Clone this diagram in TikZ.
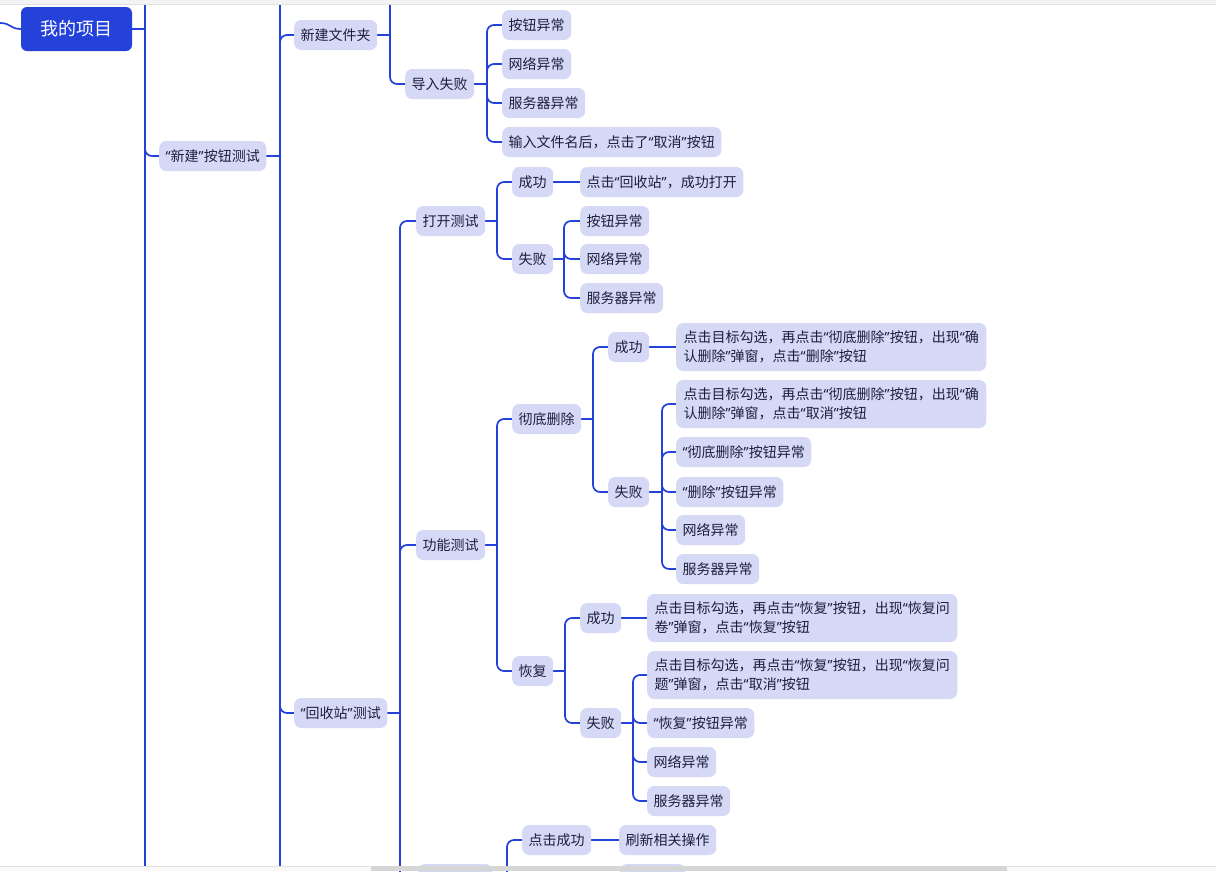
\documentclass[tikz,border=0pt]{standalone}
\usepackage{fontspec}
\setmainfont{Noto Sans CJK SC}
\newfontfamily\qfont{Noto Sans}
\definecolor{mmblue}{HTML}{2441DA}
\definecolor{mmfill}{HTML}{D5D9F6}
\definecolor{mmtext}{HTML}{1E1E3C}
\definecolor{barbg}{HTML}{F3F3F3}
\definecolor{barline}{HTML}{E2E2E2}
\definecolor{thumb}{HTML}{D6D6D6}
\newcommand\qo{{\qfont “}}
\newcommand\qc{{\qfont ”}}
\pgfdeclarelayer{paper}
\pgfdeclarelayer{links}
\pgfdeclarelayer{chrome}
\pgfsetlayers{paper,links,main,chrome}
\begin{document}
\begin{tikzpicture}[x=1pt,y=-1pt,
  topic/.style={fill=mmfill, rounded corners=7pt, anchor=west, minimum height=30pt,
    inner xsep=6.5pt, inner ysep=0pt, text=mmtext, font=\fontsize{14}{19}\selectfont},
  longtopic/.style={topic, align=left, minimum height=48pt, inner xsep=7.5pt},
  rootnode/.style={fill=mmblue, text=white, rounded corners=6pt, minimum width=111pt,
    minimum height=44pt, font=\fontsize{18}{22}\selectfont},
  link/.style={draw=mmblue, line width=1.7pt, rounded corners=7pt},
  ]
\useasboundingbox (0,0) rectangle (1216,871);
\begin{pgfonlayer}{paper}
\fill[white] (0,0) rectangle (1216,871);
\end{pgfonlayer}

% ---------- nodes ----------
\node[rootnode] (root) at (76.5,29) {我的项目};
\node[topic] (n1) at (159,156) {\qo 新建\qc 按钮测试};
\node[topic] (n2) at (294,35) {新建文件夹};
\node[topic] (n3) at (405,84) {导入失败};
\node[topic] (n31) at (502,25) {按钮异常};
\node[topic] (n32) at (502,64) {网络异常};
\node[topic] (n33) at (502,103) {服务器异常};
\node[topic] (n34) at (502,142) {输入文件名后，点击了\qo 取消\qc 按钮};
\node[topic] (n4) at (294,713) {\qo 回收站\qc 测试};
\node[topic] (n5) at (416,221) {打开测试};
\node[topic] (n51) at (512,182) {成功};
\node[topic] (n511) at (580,182) {点击\qo 回收站\qc ，成功打开};
\node[topic] (n52) at (512,259) {失败};
\node[topic] (n521) at (580,221) {按钮异常};
\node[topic] (n522) at (580,259) {网络异常};
\node[topic] (n523) at (580,298) {服务器异常};
\node[topic] (n6) at (416,545) {功能测试};
\node[topic] (n61) at (512,419) {彻底删除};
\node[topic] (n611) at (608,347) {成功};
\node[longtopic] (n6111) at (676,347) {点击目标勾选，再点击\qo 彻底删除\qc 按钮，出现\qo 确\\认删除\qc 弹窗，点击\qo 删除\qc 按钮};
\node[topic] (n612) at (608,492) {失败};
\node[longtopic] (n6121) at (676,404) {点击目标勾选，再点击\qo 彻底删除\qc 按钮，出现\qo 确\\认删除\qc 弹窗，点击\qo 取消\qc 按钮};
\node[topic] (n6122) at (676,452) {\qo 彻底删除\qc 按钮异常};
\node[topic] (n6123) at (676,492) {\qo 删除\qc 按钮异常};
\node[topic] (n6124) at (676,530) {网络异常};
\node[topic] (n6125) at (676,569) {服务器异常};
\node[topic] (n62) at (512,671) {恢复};
\node[topic] (n621) at (580,618) {成功};
\node[longtopic] (n6211) at (647,618) {点击目标勾选，再点击\qo 恢复\qc 按钮，出现\qo 恢复问\\卷\qc 弹窗，点击\qo 恢复\qc 按钮};
\node[topic] (n622) at (580,723) {失败};
\node[longtopic] (n6221) at (647,675) {点击目标勾选，再点击\qo 恢复\qc 按钮，出现\qo 恢复问\\题\qc 弹窗，点击\qo 取消\qc 按钮};
\node[topic] (n6222) at (647,723) {\qo 恢复\qc 按钮异常};
\node[topic] (n6223) at (647,762) {网络异常};
\node[topic] (n6224) at (647,801) {服务器异常};
\node[topic, minimum width=74pt] (n7) at (418,879) {};
\node[topic] (n71) at (522,840) {点击成功};
\node[topic] (n711) at (619,840) {刷新相关操作};
\node[topic, minimum width=65pt] (n72) at (620,879) {};

% ---------- junctions ----------
\coordinate (rin) at (0,23);
\coordinate (t145) at (145,0);
\coordinate (b145) at (145,871);
\coordinate (j1) at (145,29);
\coordinate (t280) at (280,0);
\coordinate (b280) at (280,871);
\coordinate (j2) at (280,156);
\coordinate (t390) at (390,0);
\coordinate (j3) at (390,35);
\coordinate (j31) at (487,84);
\coordinate (j4) at (400,713);
\coordinate (j5) at (497,221);
\coordinate (j52) at (564,259);
\coordinate (j6) at (497,545);
\coordinate (j61) at (593,419);
\coordinate (j612) at (662,492);
\coordinate (j62) at (565,671);
\coordinate (j622) at (633,723);
\coordinate (j7) at (507,879);

% ---------- connectors ----------
\begin{pgfonlayer}{links}
\draw[link, rounded corners=0pt] (rin) .. controls (11,23) and (10,29) .. (root.west);
\draw[link] (root.east) -- (j1);
\draw[link] (t145) -- (b145);
\draw[link] (j1) |- (n1.west);
\draw[link] (n1.east) -- (j2);
\draw[link] (t280) -- (b280);
\draw[link] (j2) |- (n2.west);
\draw[link] (j2) |- (n4.west);
\draw[link] (n2.east) -- (j3);
\draw[link] (t390) -- (j3);
\draw[link] (j3) |- (n3.west);
\draw[link] (n3.east) -- (j31);
\foreach \c in {n31,n32,n33,n34} \draw[link] (j31) |- (\c.west);
\draw[link] (n4.east) -- (j4);
\foreach \c in {n5,n6,n7} \draw[link] (j4) |- (\c.west);
\draw[link] (n5.east) -- (j5);
\foreach \c in {n51,n52} \draw[link] (j5) |- (\c.west);
\draw[link] (n51.east) -- (n511.west);
\draw[link] (n52.east) -- (j52);
\foreach \c in {n521,n522,n523} \draw[link] (j52) |- (\c.west);
\draw[link] (n6.east) -- (j6);
\foreach \c in {n61,n62} \draw[link] (j6) |- (\c.west);
\draw[link] (n61.east) -- (j61);
\foreach \c in {n611,n612} \draw[link] (j61) |- (\c.west);
\draw[link] (n611.east) -- (n6111.west);
\draw[link] (n612.east) -- (j612);
\foreach \c in {n6121,n6122,n6123,n6124,n6125} \draw[link] (j612) |- (\c.west);
\draw[link] (n62.east) -- (j62);
\foreach \c in {n621,n622} \draw[link] (j62) |- (\c.west);
\draw[link] (n621.east) -- (n6211.west);
\draw[link] (n622.east) -- (j622);
\foreach \c in {n6221,n6222,n6223,n6224} \draw[link] (j622) |- (\c.west);
\draw[link] (n7.east) -- (j7);
\draw[link] (j7) |- (n71.west);
\draw[link] (n71.east) -- (n711.west);
\end{pgfonlayer}

% ---------- window chrome ----------
\begin{pgfonlayer}{chrome}
\fill[barbg] (0,0) rectangle (1216,4.5);
\draw[barline, line width=0.8pt] (0,4.5) -- (1216,4.5);
\fill[barbg!60!white] (0,866) rectangle (1216,871);
\draw[barline, line width=0.8pt] (0,866) -- (1216,866);
\fill[thumb] (371,866.4) rectangle (1007,871);
\end{pgfonlayer}
\end{tikzpicture}
\end{document}
